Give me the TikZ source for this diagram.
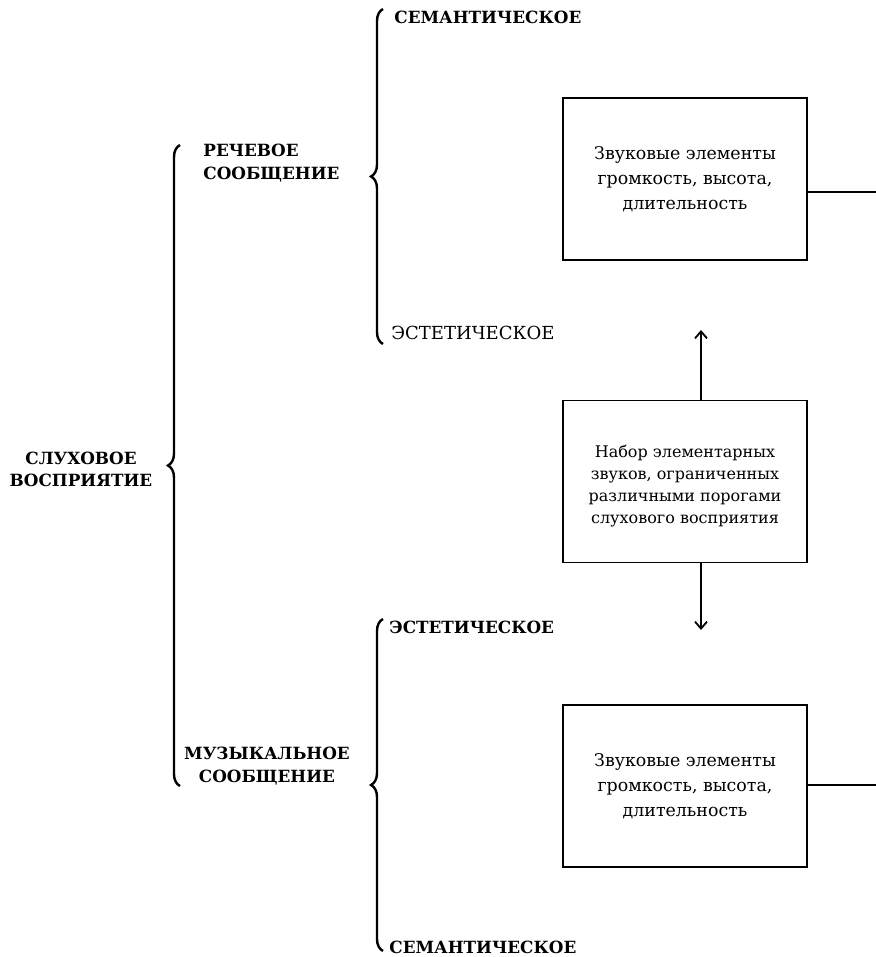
\documentclass[tikz,border=0pt]{standalone}
\usepackage{fontspec}
\setmainfont{DejaVu Serif}
\usetikzlibrary{arrows.meta,decorations.pathreplacing}
\begin{document}
\begin{tikzpicture}[x=0.5pt,y=-0.5pt,
  lbl/.style={font=\bfseries\fontsize{8.4}{11.3}\selectfont, inner sep=0pt},
  lblreg/.style={font=\fontsize{9}{11.5}\selectfont, inner sep=0pt},
  box/.style={draw, line width=0.7pt, minimum width=122pt, minimum height=81pt, inner sep=0pt, align=center},
  boxtxt/.style={font=\fontsize{8.7}{12.5}\selectfont},
  boxtxtm/.style={font=\fontsize{8}{11}\selectfont, inner sep=0pt, align=center},
  bracestyle/.style={decorate, decoration={brace, amplitude=6pt}, line width=1.2pt},
  conn/.style={line width=0.7pt},
  arr/.style={line width=0.7pt, -{Straight Barb[length=3.5pt,width=6pt,line width=0.9pt]}}
]
\useasboundingbox (0,0) rectangle (876,957);

% braces
\coordinate (bigtop) at (180,145);
\coordinate (bigbot) at (180,786);
\coordinate (uptop) at (383,9);
\coordinate (upbot) at (383,344);
\coordinate (lotop) at (383,619);
\coordinate (lobot) at (383,951);
\draw[bracestyle] (bigbot) -- (bigtop);
\draw[bracestyle] (upbot) -- (uptop);
\draw[bracestyle] (lobot) -- (lotop);

% labels
\node[lbl, align=center] (sluh) at (81,469.5) {СЛУХОВОЕ\\ВОСПРИЯТИЕ};
\node[lbl, align=left, anchor=west] (rech) at (203,163) {РЕЧЕВОЕ\\СООБЩЕНИЕ};
\node[lbl, align=center] (muz) at (267,766) {МУЗЫКАЛЬНОЕ\\СООБЩЕНИЕ};
\node[lbl, anchor=west] (sem1) at (394,17) {СЕМАНТИЧЕСКОЕ};
\node[lblreg, anchor=west] (est1) at (391,333) {ЭСТЕТИЧЕСКОЕ};
\node[lbl, anchor=west] (est2) at (389,627) {ЭСТЕТИЧЕСКОЕ};
\node[lbl, anchor=west] (sem2) at (389,947) {СЕМАНТИЧЕСКОЕ};

% boxes
\node[box, boxtxt] (b1) at (685,179) {Звуковые элементы\\громкость, высота,\\длительность};
\node[box] (b2) at (685,481.5) {};
\node[boxtxtm] (b2t) at (b2.center) [yshift=-2.5pt] {Набор элементарных\\звуков, ограниченных\\различными порогами\\слухового восприятия};
\node[box, boxtxt] (b3) at (685,786) {Звуковые элементы\\громкость, высота,\\длительность};

% connectors
\coordinate (up1) at (701,400);
\coordinate (uptip) at (701,330);
\coordinate (dn1) at (701,563);
\coordinate (dntip) at (701,630);
\draw[arr] (up1) -- (uptip);
\draw[arr] (dn1) -- (dntip);

\coordinate (r1s) at (807,192);
\coordinate (r1e) at (876,192);
\coordinate (r3s) at (807,785);
\coordinate (r3e) at (876,785);
\draw[conn] (r1s) -- (r1e);
\draw[conn] (r3s) -- (r3e);
\end{tikzpicture}
\end{document}
